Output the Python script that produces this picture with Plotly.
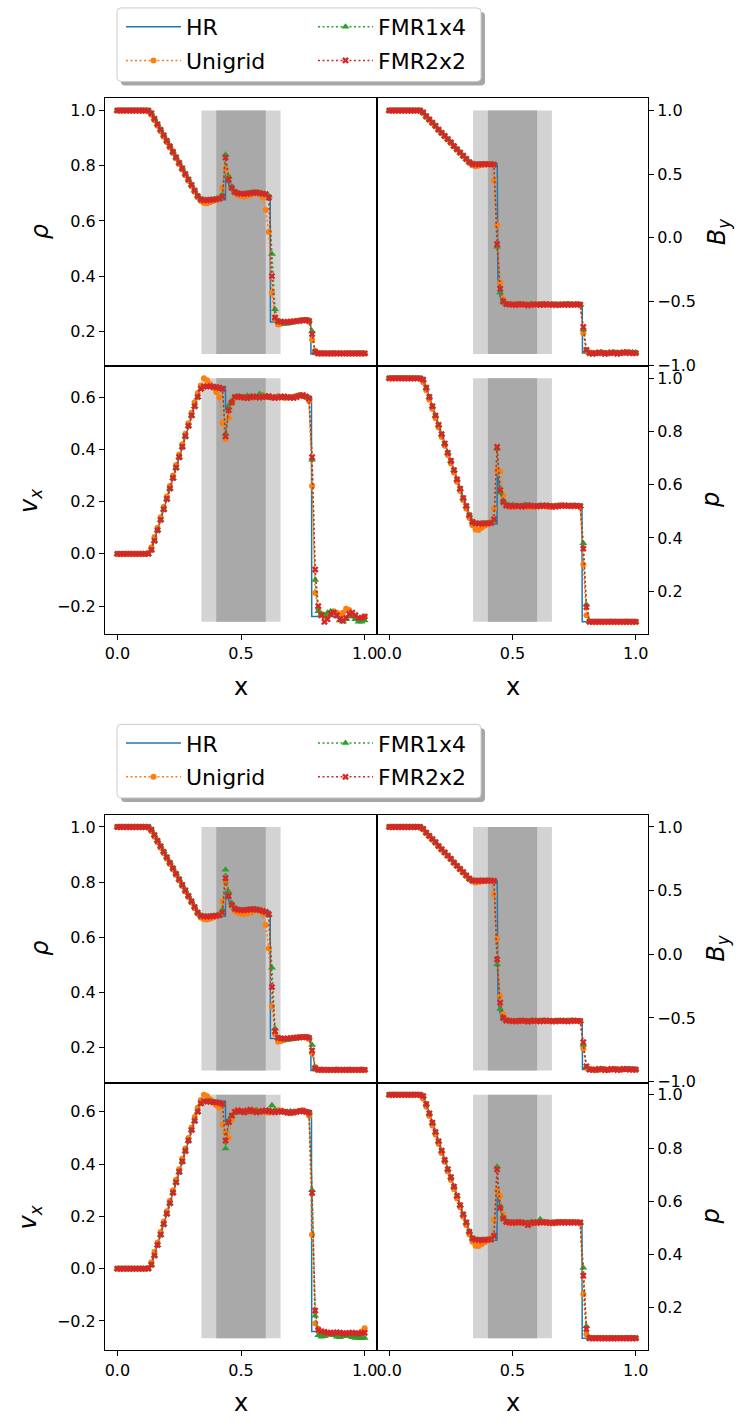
import plotly.graph_objects as go

# ---------------------------------------------------------------------------
# Shock-tube profiles at the final time: density, transverse field, velocity
# and pressure for a high-resolution run (HR) and three 81-point runs.
# ---------------------------------------------------------------------------

X = [0.0, 0.0125, 0.025, 0.0375, 0.05, 0.0625, 0.075, 0.0875, 0.1, 0.1125,
     0.125, 0.1375, 0.15, 0.1625, 0.175, 0.1875, 0.2, 0.2125, 0.225, 0.2375,
     0.25, 0.2625, 0.275, 0.2875, 0.3, 0.3125, 0.325, 0.3375, 0.35, 0.3625,
     0.375, 0.3875, 0.4, 0.4125, 0.425, 0.4375, 0.45, 0.4625, 0.475, 0.4875,
     0.5, 0.5125, 0.525, 0.5375, 0.55, 0.5625, 0.575, 0.5875, 0.6, 0.6125,
     0.625, 0.6375, 0.65, 0.6625, 0.675, 0.6875, 0.7, 0.7125, 0.725, 0.7375,
     0.75, 0.7625, 0.775, 0.7875, 0.8, 0.8125, 0.825, 0.8375, 0.85, 0.8625,
     0.875, 0.8875, 0.9, 0.9125, 0.925, 0.9375, 0.95, 0.9625, 0.975, 0.9875,
     1.0]

# High-resolution reference solution (polyline vertices)
HR_X_RHO = [0.0, 0.128, 0.14, 0.335, 0.345, 0.437, 0.438, 0.445, 0.455, 0.465,
            0.48, 0.55, 0.618, 0.619, 0.70, 0.76, 0.782, 0.783, 1.0]
HR_RHO = [1.0, 1.0, 0.982, 0.678, 0.676, 0.677, 0.77, 0.745, 0.72, 0.705,
          0.699, 0.70, 0.694, 0.234, 0.235, 0.24, 0.238, 0.118, 0.118]
HR_X_BY = [0.0, 0.126, 0.136, 0.335, 0.345, 0.438, 0.441, 0.446, 0.455, 0.465,
           0.783, 0.784, 1.0]
HR_BY = [1.0, 1.0, 0.98, 0.58, 0.578, 0.578, -0.33, -0.43, -0.50, -0.525,
         -0.525, -0.905, -0.905]
HR_X_VX = [0.0, 0.133, 0.143, 0.335, 0.345, 0.437, 0.438, 0.447, 0.46, 0.48,
           0.785, 0.786, 1.0]
HR_VX = [0.0, 0.0, 0.03, 0.637, 0.641, 0.64, 0.55, 0.572, 0.592, 0.60,
         0.60, -0.24, -0.24]
HR_X_P = [0.0, 0.135, 0.145, 0.335, 0.345, 0.437, 0.438, 0.445, 0.455, 0.47,
          0.48, 0.782, 0.783, 1.0]
HR_P = [1.0, 1.0, 0.98, 0.455, 0.453, 0.453, 0.65, 0.60, 0.555, 0.525,
        0.52, 0.52, 0.085, 0.085]

# ---------------- run 1 ----------------
RHO_UNI_1 = [1.0, 1.0, 1.0, 1.0, 1.0, 1.0, 1.0, 1.0, 1.0, 1.0, 0.998,
             0.985, 0.965, 0.945, 0.925, 0.905, 0.885, 0.866, 0.846, 0.826,
             0.806, 0.786, 0.766, 0.746, 0.726, 0.706, 0.686, 0.672,
             0.665, 0.664, 0.668, 0.672, 0.676, 0.685, 0.72,
             0.79, 0.76, 0.72, 0.70, 0.693, 0.69,
             0.688, 0.69, 0.694, 0.698, 0.70, 0.698, 0.685, 0.64,
             0.56, 0.34, 0.245, 0.225,
             0.228, 0.23, 0.233, 0.235, 0.236, 0.238, 0.239, 0.24, 0.24, 0.235,
             0.17, 0.13,
             0.12, 0.12, 0.12, 0.12, 0.12, 0.12, 0.12, 0.12, 0.12, 0.12, 0.12,
             0.12, 0.12, 0.12, 0.12, 0.12]
RHO_F14_1 = [1.0, 1.0, 1.0, 1.0, 1.0, 1.0, 1.0, 1.0, 1.0, 1.0, 1.0,
             0.992, 0.972, 0.952, 0.932, 0.912, 0.892, 0.872, 0.852, 0.832,
             0.812, 0.792, 0.772, 0.752, 0.732, 0.712, 0.692, 0.68,
             0.676, 0.676, 0.677, 0.678, 0.68, 0.682, 0.695,
             0.84, 0.76, 0.725, 0.705, 0.70, 0.698,
             0.698, 0.70, 0.702, 0.704, 0.703, 0.70, 0.698, 0.696,
             0.69, 0.48, 0.28, 0.238,
             0.232, 0.228, 0.228, 0.23, 0.233, 0.236, 0.238, 0.24, 0.241, 0.24,
             0.20, 0.127,
             0.12, 0.121, 0.12, 0.119, 0.12, 0.121, 0.12, 0.12, 0.119, 0.12,
             0.121, 0.12, 0.12, 0.121, 0.12, 0.12]
RHO_F22_1 = [1.0, 1.0, 1.0, 1.0, 1.0, 1.0, 1.0, 1.0, 1.0, 1.0, 1.0,
             0.99, 0.97, 0.95, 0.93, 0.91, 0.89, 0.87, 0.85, 0.83,
             0.81, 0.79, 0.77, 0.75, 0.73, 0.71, 0.69, 0.678,
             0.675, 0.675, 0.676, 0.677, 0.678, 0.68, 0.688,
             0.83, 0.75, 0.72, 0.705, 0.70, 0.698,
             0.698, 0.699, 0.70, 0.702, 0.703, 0.701, 0.699, 0.697,
             0.685, 0.40, 0.25, 0.236,
             0.235, 0.234, 0.234, 0.235, 0.236, 0.237, 0.238, 0.24, 0.241, 0.238,
             0.19, 0.125,
             0.12, 0.12, 0.12, 0.12, 0.12, 0.12, 0.12, 0.12, 0.12, 0.12, 0.12,
             0.12, 0.12, 0.12, 0.12, 0.12]

BY_UNI_1 = [1.0, 1.0, 1.0, 1.0, 1.0, 1.0, 1.0, 1.0, 1.0, 1.0, 1.0,
            0.98, 0.95, 0.925, 0.90, 0.875, 0.848, 0.822, 0.797, 0.772,
            0.746, 0.72, 0.694, 0.668, 0.642, 0.616, 0.59, 0.57,
            0.562, 0.566, 0.572, 0.576, 0.578, 0.578,
            0.45, 0.10, -0.35, -0.48, -0.515,
            -0.52, -0.522, -0.525, -0.527, -0.524, -0.521, -0.523, -0.526,
            -0.525, -0.522, -0.52, -0.523, -0.526, -0.525, -0.522, -0.524,
            -0.527, -0.525, -0.522, -0.521, -0.523, -0.525, -0.524, -0.53,
            -0.75, -0.89,
            -0.9, -0.905, -0.908, -0.905, -0.9, -0.905, -0.908, -0.905, -0.9,
            -0.905, -0.905, -0.9, -0.898, -0.9, -0.905, -0.905]
BY_F14_1 = [1.0, 1.0, 1.0, 1.0, 1.0, 1.0, 1.0, 1.0, 1.0, 1.0, 1.0,
            0.985, 0.955, 0.93, 0.905, 0.88, 0.85, 0.825, 0.80, 0.775,
            0.75, 0.722, 0.696, 0.67, 0.645, 0.62, 0.596, 0.58,
            0.577, 0.578, 0.578, 0.579, 0.578, 0.578,
            0.576, -0.07, -0.43, -0.50, -0.52,
            -0.525, -0.528, -0.524, -0.52, -0.526, -0.53, -0.525, -0.519,
            -0.524, -0.528, -0.523, -0.52, -0.525, -0.528, -0.524, -0.521,
            -0.523, -0.526, -0.524, -0.52, -0.522, -0.525, -0.524, -0.523,
            -0.72, -0.885,
            -0.905, -0.91, -0.912, -0.905, -0.9, -0.905, -0.91, -0.905, -0.9,
            -0.9, -0.905, -0.91, -0.905, -0.9, -0.898, -0.9]
BY_F22_1 = [1.0, 1.0, 1.0, 1.0, 1.0, 1.0, 1.0, 1.0, 1.0, 1.0, 1.0,
            0.985, 0.955, 0.93, 0.905, 0.88, 0.85, 0.825, 0.80, 0.775,
            0.75, 0.72, 0.695, 0.67, 0.645, 0.62, 0.595, 0.58,
            0.577, 0.578, 0.579, 0.579, 0.578, 0.578,
            0.575, -0.05, -0.40, -0.50, -0.52,
            -0.522, -0.525, -0.527, -0.523, -0.52, -0.525, -0.53, -0.526,
            -0.522, -0.524, -0.527, -0.525, -0.521, -0.523, -0.526, -0.528,
            -0.524, -0.522, -0.525, -0.527, -0.524, -0.522, -0.523, -0.525,
            -0.70, -0.88,
            -0.905, -0.91, -0.905, -0.9, -0.905, -0.91, -0.905, -0.9, -0.905,
            -0.91, -0.905, -0.9, -0.9, -0.905, -0.905, -0.905]

VX_UNI_1 = [0.0, 0.0, 0.0, 0.0, 0.0, 0.0, 0.0, 0.0, 0.0, 0.0, 0.003,
            0.025, 0.065, 0.10, 0.14, 0.18, 0.22, 0.26, 0.30, 0.34,
            0.38, 0.42, 0.46, 0.50, 0.54, 0.58, 0.615, 0.645,
            0.672, 0.665, 0.65, 0.635, 0.62, 0.60, 0.50,
            0.44, 0.52, 0.575, 0.598, 0.60, 0.598,
            0.601, 0.603, 0.600, 0.598, 0.600, 0.605, 0.608, 0.604, 0.600,
            0.598, 0.600, 0.603, 0.600, 0.597, 0.598, 0.600, 0.602, 0.605,
            0.608, 0.606, 0.600, 0.585,
            0.26, -0.15,
            -0.21, -0.23, -0.24, -0.235, -0.225, -0.22, -0.225, -0.235,
            -0.225, -0.21, -0.215, -0.235, -0.245, -0.25, -0.245, -0.24]
VX_F14_1 = [0.0, 0.0, 0.0, 0.0, 0.0, 0.0, 0.0, 0.0, 0.0, 0.0, 0.0,
            0.015, 0.05, 0.09, 0.13, 0.17, 0.21, 0.25, 0.29, 0.33,
            0.37, 0.41, 0.45, 0.49, 0.53, 0.565, 0.60, 0.63,
            0.638, 0.64, 0.64, 0.639, 0.637, 0.635, 0.63,
            0.46, 0.56, 0.585, 0.60, 0.603, 0.601,
            0.600, 0.605, 0.602, 0.598, 0.600, 0.612, 0.606, 0.600, 0.598,
            0.596, 0.599, 0.602, 0.600, 0.598, 0.596, 0.598, 0.600, 0.603,
            0.606, 0.604, 0.600, 0.598,
            0.36, -0.10,
            -0.22, -0.23, -0.235, -0.225, -0.22, -0.225, -0.24, -0.255,
            -0.26, -0.25, -0.24, -0.24, -0.25, -0.26, -0.26, -0.255]
VX_F22_1 = [0.0, 0.0, 0.0, 0.0, 0.0, 0.0, 0.0, 0.0, 0.0, 0.0, 0.0,
            0.015, 0.05, 0.09, 0.13, 0.17, 0.21, 0.25, 0.29, 0.33,
            0.37, 0.41, 0.45, 0.49, 0.53, 0.565, 0.60, 0.632,
            0.64, 0.642, 0.641, 0.64, 0.638, 0.636, 0.632,
            0.45, 0.55, 0.58, 0.60, 0.602, 0.60,
            0.598, 0.596, 0.600, 0.603, 0.601, 0.598, 0.600, 0.602, 0.604,
            0.600, 0.597, 0.598, 0.601, 0.603, 0.600, 0.598, 0.597, 0.600,
            0.605, 0.608, 0.603, 0.595,
            0.37, -0.06,
            -0.20, -0.235, -0.26, -0.25, -0.23, -0.225, -0.235, -0.25,
            -0.255, -0.245, -0.23, -0.225, -0.235, -0.245, -0.245, -0.24]

P_UNI_1 = [1.0, 1.0, 1.0, 1.0, 1.0, 1.0, 1.0, 1.0, 1.0, 1.0, 0.998,
           0.985, 0.955, 0.92, 0.885, 0.85, 0.815, 0.78, 0.747, 0.712,
           0.68, 0.645, 0.61, 0.577, 0.542, 0.51, 0.475, 0.448,
           0.432, 0.43, 0.438, 0.446, 0.452, 0.46,
           0.51, 0.655, 0.65, 0.56, 0.525,
           0.518, 0.516, 0.518, 0.52, 0.52, 0.519, 0.517, 0.516, 0.518, 0.52,
           0.521, 0.52, 0.518, 0.516, 0.517, 0.52, 0.522, 0.523, 0.521, 0.52,
           0.521, 0.522, 0.52, 0.515,
           0.30, 0.11,
           0.086, 0.085, 0.085, 0.085, 0.085, 0.085, 0.085, 0.085, 0.085,
           0.085, 0.085, 0.085, 0.085, 0.085, 0.085, 0.085]
P_F14_1 = [1.0, 1.0, 1.0, 1.0, 1.0, 1.0, 1.0, 1.0, 1.0, 1.0, 1.0,
           0.995, 0.965, 0.93, 0.895, 0.86, 0.825, 0.79, 0.755, 0.72,
           0.69, 0.655, 0.62, 0.585, 0.55, 0.52, 0.487, 0.462,
           0.455, 0.454, 0.455, 0.455, 0.456, 0.457,
           0.465, 0.735, 0.57, 0.54, 0.525,
           0.522, 0.524, 0.52, 0.518, 0.521, 0.525, 0.523, 0.52, 0.519, 0.52,
           0.523, 0.521, 0.52, 0.518, 0.519, 0.521, 0.522, 0.52, 0.519, 0.52,
           0.522, 0.521, 0.52, 0.519,
           0.38, 0.15,
           0.086, 0.085, 0.085, 0.086, 0.085, 0.085, 0.085, 0.086, 0.085,
           0.085, 0.085, 0.085, 0.086, 0.085, 0.085, 0.085]
P_F22_1 = [1.0, 1.0, 1.0, 1.0, 1.0, 1.0, 1.0, 1.0, 1.0, 1.0, 1.0,
           0.995, 0.965, 0.93, 0.895, 0.86, 0.825, 0.79, 0.755, 0.72,
           0.69, 0.655, 0.62, 0.585, 0.55, 0.52, 0.485, 0.46,
           0.455, 0.453, 0.454, 0.455, 0.455, 0.456,
           0.47, 0.742, 0.58, 0.535, 0.522,
           0.52, 0.519, 0.521, 0.52, 0.518, 0.52, 0.522, 0.521, 0.52, 0.519,
           0.52, 0.521, 0.522, 0.52, 0.519, 0.518, 0.52, 0.521, 0.522, 0.521,
           0.52, 0.52, 0.521, 0.52,
           0.36, 0.14,
           0.085, 0.085, 0.085, 0.085, 0.085, 0.085, 0.085, 0.085, 0.085,
           0.085, 0.085, 0.085, 0.085, 0.085, 0.085, 0.085]

# ---------------- run 2 ----------------
RHO_UNI_2 = [1.0, 1.0, 1.0, 1.0, 1.0, 1.0, 1.0, 1.0, 1.0, 1.0, 0.998,
             0.985, 0.965, 0.945, 0.925, 0.905, 0.885, 0.866, 0.846, 0.826,
             0.806, 0.786, 0.766, 0.746, 0.726, 0.706, 0.686, 0.672,
             0.666, 0.665, 0.668, 0.672, 0.676, 0.686, 0.73,
             0.80, 0.76, 0.715, 0.695, 0.688, 0.686,
             0.685, 0.687, 0.69, 0.695, 0.698, 0.697, 0.686, 0.645,
             0.56, 0.35, 0.25, 0.222,
             0.225, 0.228, 0.232, 0.234, 0.236, 0.237, 0.238, 0.239, 0.238, 0.232,
             0.18, 0.13,
             0.12, 0.12, 0.12, 0.12, 0.12, 0.12, 0.12, 0.12, 0.12, 0.12, 0.12,
             0.12, 0.12, 0.12, 0.12, 0.12]
RHO_F14_2 = [1.0, 1.0, 1.0, 1.0, 1.0, 1.0, 1.0, 1.0, 1.0, 1.0, 1.0,
             0.992, 0.972, 0.952, 0.932, 0.912, 0.892, 0.872, 0.852, 0.832,
             0.812, 0.792, 0.772, 0.752, 0.732, 0.712, 0.692, 0.68,
             0.677, 0.676, 0.677, 0.678, 0.679, 0.681, 0.70,
             0.845, 0.765, 0.725, 0.706, 0.70, 0.699,
             0.698, 0.70, 0.701, 0.702, 0.70, 0.698, 0.695, 0.69,
             0.682, 0.49, 0.27, 0.236,
             0.233, 0.23, 0.229, 0.23, 0.232, 0.234, 0.236, 0.238, 0.239, 0.238,
             0.21, 0.128,
             0.12, 0.121, 0.12, 0.12, 0.119, 0.12, 0.121, 0.12, 0.12, 0.12,
             0.121, 0.12, 0.12, 0.12, 0.121, 0.12]
RHO_F22_2 = [1.0, 1.0, 1.0, 1.0, 1.0, 1.0, 1.0, 1.0, 1.0, 1.0, 1.0,
             0.99, 0.97, 0.95, 0.93, 0.91, 0.89, 0.87, 0.85, 0.83,
             0.81, 0.79, 0.77, 0.75, 0.73, 0.71, 0.69, 0.678,
             0.676, 0.675, 0.676, 0.677, 0.678, 0.68, 0.69,
             0.815, 0.75, 0.718, 0.704, 0.70, 0.699,
             0.698, 0.70, 0.701, 0.702, 0.701, 0.699, 0.696, 0.692,
             0.683, 0.42, 0.26, 0.236,
             0.234, 0.233, 0.234, 0.235, 0.236, 0.237, 0.238, 0.239, 0.239, 0.236,
             0.19, 0.126,
             0.12, 0.12, 0.12, 0.12, 0.12, 0.12, 0.12, 0.12, 0.12, 0.12, 0.12,
             0.12, 0.12, 0.12, 0.12, 0.12]

BY_UNI_2 = [1.0, 1.0, 1.0, 1.0, 1.0, 1.0, 1.0, 1.0, 1.0, 1.0, 1.0,
            0.98, 0.95, 0.925, 0.90, 0.875, 0.848, 0.822, 0.797, 0.772,
            0.746, 0.72, 0.694, 0.668, 0.642, 0.616, 0.59, 0.572,
            0.565, 0.568, 0.572, 0.575, 0.577, 0.578,
            0.47, 0.12, -0.33, -0.47, -0.512,
            -0.52, -0.523, -0.525, -0.526, -0.524, -0.522, -0.524, -0.526,
            -0.524, -0.521, -0.52, -0.522, -0.525, -0.526, -0.523, -0.522,
            -0.524, -0.526, -0.524, -0.521, -0.52, -0.522, -0.523, -0.528,
            -0.74, -0.89,
            -0.9, -0.905, -0.91, -0.906, -0.9, -0.903, -0.908, -0.905, -0.9,
            -0.903, -0.907, -0.903, -0.9, -0.9, -0.905, -0.906]
BY_F14_2 = [1.0, 1.0, 1.0, 1.0, 1.0, 1.0, 1.0, 1.0, 1.0, 1.0, 1.0,
            0.985, 0.955, 0.93, 0.905, 0.88, 0.85, 0.825, 0.80, 0.775,
            0.75, 0.722, 0.696, 0.67, 0.645, 0.62, 0.596, 0.58,
            0.577, 0.578, 0.578, 0.578, 0.579, 0.578,
            0.574, -0.08, -0.43, -0.50, -0.52,
            -0.524, -0.527, -0.525, -0.521, -0.524, -0.528, -0.525, -0.52,
            -0.523, -0.527, -0.524, -0.52, -0.524, -0.527, -0.525, -0.521,
            -0.522, -0.525, -0.526, -0.522, -0.521, -0.523, -0.525, -0.524,
            -0.71, -0.885,
            -0.905, -0.908, -0.912, -0.907, -0.9, -0.904, -0.91, -0.906, -0.9,
            -0.902, -0.906, -0.91, -0.905, -0.9, -0.9, -0.902]
BY_F22_2 = [1.0, 1.0, 1.0, 1.0, 1.0, 1.0, 1.0, 1.0, 1.0, 1.0, 1.0,
            0.985, 0.955, 0.93, 0.905, 0.88, 0.85, 0.825, 0.80, 0.775,
            0.75, 0.72, 0.695, 0.67, 0.645, 0.62, 0.595, 0.58,
            0.577, 0.578, 0.578, 0.579, 0.578, 0.578,
            0.576, -0.04, -0.38, -0.50, -0.52,
            -0.522, -0.524, -0.527, -0.524, -0.52, -0.523, -0.528, -0.525,
            -0.521, -0.524, -0.527, -0.524, -0.52, -0.523, -0.527, -0.526,
            -0.523, -0.521, -0.524, -0.526, -0.524, -0.521, -0.522, -0.524,
            -0.69, -0.88,
            -0.905, -0.908, -0.905, -0.9, -0.904, -0.91, -0.906, -0.9, -0.904,
            -0.909, -0.905, -0.9, -0.901, -0.905, -0.906, -0.905]

VX_UNI_2 = [0.0, 0.0, 0.0, 0.0, 0.0, 0.0, 0.0, 0.0, 0.0, 0.0, 0.003,
            0.025, 0.065, 0.10, 0.14, 0.18, 0.22, 0.26, 0.30, 0.34,
            0.38, 0.42, 0.46, 0.50, 0.54, 0.58, 0.615, 0.645,
            0.665, 0.66, 0.648, 0.635, 0.625, 0.615, 0.55,
            0.52, 0.50, 0.57, 0.598, 0.605, 0.603,
            0.600, 0.598, 0.600, 0.603, 0.606, 0.603, 0.600, 0.598, 0.596,
            0.600, 0.603, 0.606, 0.605, 0.600, 0.596, 0.594, 0.596, 0.600,
            0.604, 0.606, 0.600, 0.585,
            0.13, -0.21,
            -0.23, -0.245, -0.25, -0.252, -0.25, -0.248, -0.25, -0.252,
            -0.255, -0.253, -0.25, -0.252, -0.255, -0.25, -0.24, -0.228]
VX_F14_2 = [0.0, 0.0, 0.0, 0.0, 0.0, 0.0, 0.0, 0.0, 0.0, 0.0, 0.0,
            0.015, 0.05, 0.09, 0.13, 0.17, 0.21, 0.25, 0.29, 0.33,
            0.37, 0.41, 0.45, 0.49, 0.53, 0.565, 0.60, 0.63,
            0.638, 0.64, 0.64, 0.638, 0.636, 0.634, 0.63,
            0.46, 0.56, 0.585, 0.595, 0.60, 0.598,
            0.596, 0.598, 0.600, 0.602, 0.606, 0.600, 0.598, 0.600, 0.604,
            0.625, 0.608, 0.600, 0.598, 0.597, 0.600, 0.602, 0.600, 0.598,
            0.600, 0.602, 0.600, 0.598,
            0.30, -0.18,
            -0.255, -0.26, -0.258, -0.252, -0.25, -0.255, -0.26, -0.262,
            -0.258, -0.255, -0.258, -0.262, -0.265, -0.265, -0.266, -0.265]
VX_F22_2 = [0.0, 0.0, 0.0, 0.0, 0.0, 0.0, 0.0, 0.0, 0.0, 0.0, 0.0,
            0.015, 0.05, 0.09, 0.13, 0.17, 0.21, 0.25, 0.29, 0.33,
            0.37, 0.41, 0.45, 0.49, 0.53, 0.565, 0.60, 0.632,
            0.64, 0.64, 0.638, 0.637, 0.636, 0.634, 0.63,
            0.49, 0.56, 0.585, 0.60, 0.605, 0.602,
            0.598, 0.604, 0.608, 0.602, 0.598, 0.600, 0.603, 0.605, 0.603,
            0.600, 0.598, 0.600, 0.602, 0.600, 0.597, 0.596, 0.598, 0.600,
            0.602, 0.603, 0.600, 0.597,
            0.29, -0.16,
            -0.235, -0.24, -0.242, -0.245, -0.246, -0.245, -0.244, -0.245,
            -0.247, -0.248, -0.246, -0.245, -0.247, -0.248, -0.246, -0.245]

P_UNI_2 = [1.0, 1.0, 1.0, 1.0, 1.0, 1.0, 1.0, 1.0, 1.0, 1.0, 0.998,
           0.985, 0.955, 0.92, 0.885, 0.85, 0.815, 0.78, 0.747, 0.712,
           0.68, 0.645, 0.61, 0.577, 0.542, 0.51, 0.475, 0.448,
           0.433, 0.432, 0.438, 0.446, 0.452, 0.462,
           0.53, 0.64, 0.62, 0.55, 0.522,
           0.518, 0.517, 0.518, 0.52, 0.521, 0.52, 0.518, 0.517, 0.518, 0.52,
           0.522, 0.521, 0.52, 0.518, 0.517, 0.518, 0.52, 0.522, 0.523, 0.522,
           0.52, 0.521, 0.52, 0.516,
           0.25, 0.10,
           0.086, 0.085, 0.085, 0.085, 0.085, 0.085, 0.085, 0.085, 0.085,
           0.085, 0.085, 0.085, 0.085, 0.085, 0.085, 0.085]
P_F14_2 = [1.0, 1.0, 1.0, 1.0, 1.0, 1.0, 1.0, 1.0, 1.0, 1.0, 1.0,
           0.995, 0.965, 0.93, 0.895, 0.86, 0.825, 0.79, 0.755, 0.72,
           0.69, 0.655, 0.62, 0.585, 0.55, 0.52, 0.487, 0.462,
           0.456, 0.455, 0.455, 0.455, 0.456, 0.457,
           0.468, 0.73, 0.58, 0.54, 0.522,
           0.521, 0.52, 0.519, 0.52, 0.518, 0.517, 0.52, 0.522, 0.521, 0.52,
           0.532, 0.522, 0.52, 0.519, 0.52, 0.521, 0.522, 0.52, 0.519, 0.52,
           0.521, 0.52, 0.52, 0.519,
           0.35, 0.13,
           0.086, 0.085, 0.085, 0.086, 0.085, 0.085, 0.085, 0.086, 0.085,
           0.085, 0.085, 0.085, 0.086, 0.085, 0.085, 0.085]
P_F22_2 = [1.0, 1.0, 1.0, 1.0, 1.0, 1.0, 1.0, 1.0, 1.0, 1.0, 1.0,
           0.995, 0.965, 0.93, 0.895, 0.86, 0.825, 0.79, 0.755, 0.72,
           0.69, 0.655, 0.62, 0.585, 0.55, 0.52, 0.485, 0.46,
           0.455, 0.453, 0.454, 0.455, 0.455, 0.456,
           0.47, 0.72, 0.575, 0.535, 0.522,
           0.52, 0.519, 0.52, 0.521, 0.52, 0.518, 0.51, 0.517, 0.52, 0.519,
           0.52, 0.521, 0.52, 0.519, 0.518, 0.52, 0.521, 0.52, 0.519, 0.52,
           0.521, 0.52, 0.52, 0.52,
           0.32, 0.12,
           0.085, 0.085, 0.085, 0.085, 0.085, 0.085, 0.085, 0.085, 0.085,
           0.085, 0.085, 0.085, 0.085, 0.085, 0.085, 0.085]

# Refinement regions (coarse / fine patch extents in x)
COARSE_REGION = (0.34, 0.66)
FINE_REGION = (0.40, 0.60)

SERIES = ["Unigrid", "FMR1x4", "FMR2x2"]
RUNS = [
    {"rho": (RHO_UNI_1, RHO_F14_1, RHO_F22_1), "By": (BY_UNI_1, BY_F14_1, BY_F22_1),
     "vx": (VX_UNI_1, VX_F14_1, VX_F22_1), "p": (P_UNI_1, P_F14_1, P_F22_1)},
    {"rho": (RHO_UNI_2, RHO_F14_2, RHO_F22_2), "By": (BY_UNI_2, BY_F14_2, BY_F22_2),
     "vx": (VX_UNI_2, VX_F14_2, VX_F22_2), "p": (P_UNI_2, P_F14_2, P_F22_2)},
]
HR = {"rho": (HR_X_RHO, HR_RHO), "By": (HR_X_BY, HR_BY),
      "vx": (HR_X_VX, HR_VX), "p": (HR_X_P, HR_P)}

for run in RUNS:
    for key, arrs in run.items():
        for a in arrs:
            assert len(a) == len(X), (key, len(a))

# ---------------------------------------------------------------------------
# Styling / geometry
# ---------------------------------------------------------------------------
W, H = 745, 1425
FONT = "DejaVu Sans"
C_HR, C_UNI, C_F14, C_F22 = "#1f77b4", "#ff7f0e", "#2ca02c", "#d62728"
STYLE = {
    "Unigrid": dict(color=C_UNI, symbol="circle", size=6),
    "FMR1x4": dict(color=C_F14, symbol="triangle-up", size=7),
    "FMR2x2": dict(color=C_F22, symbol="x", size=6),
}

# panel key, axis title, tick values, column, row
PANELS = [
    ("rho", "<i>ρ</i>", [0.2, 0.4, 0.6, 0.8, 1.0], 0, 0),
    ("By", "<i>B</i><sub><i>y</i></sub>", [-1.0, -0.5, 0.0, 0.5, 1.0], 1, 0),
    ("vx", "<i>v</i><sub><i>x</i></sub>", [-0.2, 0.0, 0.2, 0.4, 0.6], 0, 1),
    ("p", "<i>p</i>", [0.2, 0.4, 0.6, 0.8, 1.0], 1, 1),
]
COL_PX = [(105, 377), (377, 648)]
GROUP_TOP = [99, 820]
ROW_H = 269.5
YLABEL_X = {"rho": 40, "vx": 30, "By": 718, "p": 711}


def fx(px):
    return px / W


def fy(py):
    return 1 - py / H


def padded(lo, hi, frac=0.05):
    d = hi - lo
    return lo - frac * d, hi + frac * d


fig = go.Figure()
layout = dict(width=W, height=H, margin=dict(l=0, r=0, t=0, b=0),
              paper_bgcolor="white", plot_bgcolor="white",
              font=dict(family=FONT, color="black"), showlegend=True)
shapes, annotations = [], []

xr = padded(min(X), max(X))

for g, run in enumerate(RUNS):
    top = GROUP_TOP[g]
    for k, (key, label, ticks, col, row) in enumerate(PANELS):
        n = g * 4 + k + 1
        xa, ya = f"x{n}", f"y{n}"
        xs = "" if n == 1 else str(n)
        y0 = top + row * ROW_H
        y1 = y0 + ROW_H
        c0, c1 = COL_PX[col]

        hx, hy = HR[key]
        series = run[key]
        all_y = list(hy) + [v for s in series for v in s]
        lo, hi = min(all_y), max(all_y)

        # refinement regions
        for (a, b), fc in ((COARSE_REGION, "#d3d3d3"), (FINE_REGION, "#a9a9a9")):
            shapes.append(dict(type="rect", xref=xa, yref=ya, x0=a, x1=b,
                               y0=lo, y1=hi, fillcolor=fc, line=dict(width=0),
                               layer="below"))

        first = (k == 0)
        leg_base = g * 4
        fig.add_trace(go.Scatter(
            x=hx, y=hy, mode="lines", name="HR",
            line=dict(color=C_HR, width=1.5),
            xaxis=xa, yaxis=ya, showlegend=first,
            legend="legend" if leg_base == 0 else f"legend{leg_base + 1}"))
        for j, (name, yv) in enumerate(zip(SERIES, series)):
            st = STYLE[name]
            fig.add_trace(go.Scatter(
                x=X, y=yv, mode="lines+markers", name=name,
                line=dict(color=st["color"], width=1.5, dash="2px,2.5px"),
                marker=dict(color=st["color"], symbol=st["symbol"], size=st["size"],
                            line=dict(width=0)),
                xaxis=xa, yaxis=ya, showlegend=first,
                legend=f"legend{leg_base + j + 2}"))

        bottom = (row == 1)
        layout[f"xaxis{xs}"] = dict(
            domain=[fx(c0), fx(c1)], range=list(xr), anchor=ya,
            showline=True, mirror=True, linecolor="black", linewidth=1,
            showgrid=False, zeroline=False,
            ticks="outside" if bottom else "", ticklen=5, tickwidth=1,
            tickcolor="black", showticklabels=bottom,
            tickvals=[0.0, 0.5, 1.0], tickformat=".1f",
            tickfont=dict(family=FONT, size=16, color="black"))
        layout[f"yaxis{xs}"] = dict(
            domain=[fy(y1), fy(y0)], range=list(padded(lo, hi)), anchor=xa,
            side="left" if col == 0 else "right",
            showline=True, mirror=True, linecolor="black", linewidth=1,
            showgrid=False, zeroline=False,
            ticks="outside", ticklen=5, tickwidth=1, tickcolor="black",
            tickvals=ticks, tickformat=".1f",
            tickfont=dict(family=FONT, size=16, color="black"))

        annotations.append(dict(
            text=label, xref="paper", yref="paper",
            x=fx(YLABEL_X[key]), y=fy((y0 + y1) / 2), textangle=-90,
            showarrow=False, xanchor="center", yanchor="middle",
            font=dict(family=FONT, size=24, color="black")))
        if bottom:
            annotations.append(dict(
                text="x", xref="paper", yref="paper",
                x=fx((c0 + c1) / 2), y=fy(y1 + 53),
                showarrow=False, xanchor="center", yanchor="middle",
                font=dict(family=FONT, size=24, color="black")))

    # legend frame with drop shadow
    bx0, bx1 = 117, 481
    by0, by1 = top - 91, top - 17
    r = 4

    def rounded(x0, y0_, x1, y1_):
        return (f"M {fx(x0 + r)},{fy(y0_)} L {fx(x1 - r)},{fy(y0_)} "
                f"Q {fx(x1)},{fy(y0_)} {fx(x1)},{fy(y0_ + r)} "
                f"L {fx(x1)},{fy(y1_ - r)} Q {fx(x1)},{fy(y1_)} {fx(x1 - r)},{fy(y1_)} "
                f"L {fx(x0 + r)},{fy(y1_)} Q {fx(x0)},{fy(y1_)} {fx(x0)},{fy(y1_ - r)} "
                f"L {fx(x0)},{fy(y0_ + r)} Q {fx(x0)},{fy(y0_)} {fx(x0 + r)},{fy(y0_)} Z")

    shapes.append(dict(type="path", xref="paper", yref="paper",
                       path=rounded(bx0 + 4, by0 + 4, bx1 + 4, by1 + 4),
                       fillcolor="rgba(0,0,0,0.35)", line=dict(width=0)))
    shapes.append(dict(type="path", xref="paper", yref="paper",
                       path=rounded(bx0, by0, bx1, by1),
                       fillcolor="white", line=dict(color="#cccccc", width=1)))

    # one legend per entry, laid out in two columns
    rows_y = [top - 72, top - 38]
    cols_x = [121, 313]
    slots = [(0, 0), (0, 1), (1, 0), (1, 1)]  # HR, Unigrid, FMR1x4, FMR2x2
    for j, (cc, rr) in enumerate(slots):
        idx = g * 4 + j + 1
        lname = "legend" if idx == 1 else f"legend{idx}"
        layout[lname] = dict(
            x=fx(cols_x[cc]), y=fy(rows_y[rr]), xanchor="left", yanchor="middle",
            xref="paper", yref="paper", bgcolor="rgba(0,0,0,0)", borderwidth=0,
            font=dict(family=FONT, size=22, color="black"), itemwidth=55)

layout["shapes"] = shapes
layout["annotations"] = annotations
fig.update_layout(**layout)
fig.write_html("out.html")
